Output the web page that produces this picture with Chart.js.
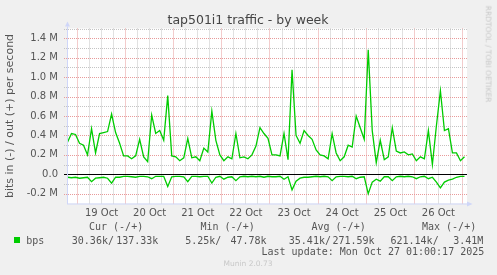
<!DOCTYPE html>
<html>
<head>
<meta charset="utf-8">
<script src="https://cdn.jsdelivr.net/npm/chart.js@4.4.1/dist/chart.umd.min.js"></script>
<style>
  html, body { margin: 0; padding: 0; background: #f0f0f0; }
  #wrap { position: relative; width: 497px; height: 275px; overflow: hidden; }
  #graph { position: absolute; left: 0; top: 0; }
  .txt { position: absolute; white-space: pre; color: #555; }
  .mono { font-family: 'DejaVu Sans Mono', monospace; font-size: 10px; line-height: 10px; }
  .title { font-family: 'DejaVu Sans', sans-serif; font-size: 12.5px; line-height: 12.5px; color: #444; }
  .faint { font-family: 'DejaVu Sans', sans-serif; font-size: 7.5px; line-height: 7.5px; color: #c8c8c8; }
  .swatch { position: absolute; left: 14px; top: 237px; width: 6px; height: 6px; background: #00cc00; }
</style>
</head>
<body>
<div id="wrap">
  <canvas id="graph" width="497" height="275"></canvas>
  <div class="txt title" style="left:248px; top:13.5px; transform:translateX(-50%);">tap501i1 traffic - by week</div>
  <div class="txt faint" style="left:487.5px; top:53.5px; transform:translate(-50%,-50%) rotate(90deg);">RRDTOOL / TOBI OETIKER</div>
  <div id="legend"></div>
  <div class="txt faint" style="left:248px; top:260px; transform:translateX(-50%);">Munin 2.0.73</div>
</div>
<script>
// time axis: hours counted from 19 Oct 00:00, one sample every 2 h
const dayLabels = ['19 Oct', '20 Oct', '21 Oct', '22 Oct', '23 Oct', '24 Oct', '25 Oct', '26 Oct'];
const firstHour = -5;
const stepHours = 2;

// traffic in Mbit/s
const outMbps = [
  0.33, 0.42, 0.41, 0.32, 0.30, 0.20, 0.47, 0.22, 0.42, 0.43,
  0.44, 0.62, 0.43, 0.32, 0.19, 0.19, 0.16, 0.19, 0.36, 0.18,
  0.13, 0.61, 0.42, 0.45, 0.35, 0.81, 0.19, 0.18, 0.14, 0.17,
  0.37, 0.17, 0.18, 0.14, 0.27, 0.23, 0.65, 0.35, 0.20, 0.14,
  0.18, 0.16, 0.42, 0.17, 0.18, 0.16, 0.20, 0.29, 0.48, 0.42,
  0.37, 0.20, 0.20, 0.19, 0.42, 0.15, 1.075, 0.40, 0.32, 0.45,
  0.40, 0.36, 0.25, 0.20, 0.19, 0.16, 0.42, 0.22, 0.14, 0.18,
  0.30, 0.28, 0.60, 0.48, 0.36, 1.28, 0.45, 0.12, 0.35, 0.15,
  0.18, 0.48, 0.24, 0.22, 0.23, 0.20, 0.21, 0.14, 0.18, 0.16,
  0.45, 0.10, 0.50, 0.86, 0.45, 0.47, 0.22, 0.22, 0.14, 0.18
];
const inMbps = [
  0.030, 0.035, 0.030, 0.040, 0.035, 0.030, 0.075, 0.040, 0.035, 0.030,
  0.040, 0.090, 0.030, 0.030, 0.020, 0.020, 0.025, 0.030, 0.020, 0.020,
  0.025, 0.045, 0.020, 0.020, 0.020, 0.125, 0.025, 0.020, 0.020, 0.025,
  0.075, 0.020, 0.020, 0.025, 0.020, 0.020, 0.090, 0.030, 0.020, 0.050,
  0.030, 0.025, 0.065, 0.025, 0.020, 0.025, 0.020, 0.025, 0.020, 0.030,
  0.020, 0.025, 0.025, 0.020, 0.050, 0.025, 0.160, 0.070, 0.040, 0.030,
  0.030, 0.025, 0.020, 0.025, 0.020, 0.025, 0.065, 0.025, 0.020, 0.020,
  0.025, 0.020, 0.045, 0.030, 0.025, 0.200, 0.080, 0.050, 0.070, 0.025,
  0.025, 0.065, 0.025, 0.020, 0.025, 0.020, 0.025, 0.045, 0.025, 0.020,
  0.045, 0.030, 0.080, 0.140, 0.080, 0.060, 0.050, 0.030, 0.020, 0.020
];

const statHeads = ['Cur (-/+)', 'Min (-/+)', 'Avg (-/+)', 'Max (-/+)'];
const statIn = ['30.36k/', '5.25k/', '35.41k/', '621.14k/'];
const statOut = ['137.33k', '47.78k', '271.59k', '3.41M'];
const lastUpdate = 'Last update: Mon Oct 27 01:00:17 2025';

const GREEN = '#00cc00';
const AXIS = '#cfd6f8';
const MGRID = '#e89a9a';
const GRID = '#c4c4c4';

// legend block, rrdtool style
const legend = document.getElementById('legend');
function put(text, x, y) {
  const d = document.createElement('div');
  d.className = 'txt mono';
  d.textContent = text;
  d.style.left = x + 'px';
  d.style.top = (y - 4.8) + 'px';
  legend.appendChild(d);
}
const headX = [89, 200.5, 311.5, 422];
const inX = [71.8, 185.2, 288.8, 390.5];
const outX = [116.2, 230.5, 332.5, 453.2];
statHeads.forEach((t, i) => put(t, headX[i], 226.7));
put('bps', 26.2, 240.3);
statIn.forEach((t, i) => put(t, inX[i], 240.3));
statOut.forEach((t, i) => put(t, outX[i], 240.3));
put(lastUpdate, 261.5, 251.3);
const sw = document.createElement('div');
sw.className = 'swatch';
legend.appendChild(sw);

const toPoints = (arr, sign) => arr.map((v, i) => ({ x: firstHour + i * stepHours, y: sign * v }));

const tenths = v => Math.round(v * 10);

const muninFrame = {
  id: 'muninFrame',
  beforeDraw(chart) {
    const { ctx, chartArea: a } = chart;
    ctx.save();
    ctx.fillStyle = '#ffffff';
    ctx.fillRect(a.left, a.top, a.right - a.left, a.bottom - a.top);
    ctx.restore();
  },
  // horizontal grid from the y scale ticks, rrdtool dotted style
  beforeDatasetsDraw(chart) {
    const { ctx, chartArea: a } = chart;
    const y = chart.scales.y;
    ctx.save();
    ctx.lineWidth = 1;
    y.ticks.forEach(t => {
      const k = tenths(t.value);
      const py = Math.round(y.getPixelForValue(t.value)) + 0.5;
      ctx.strokeStyle = k === 0 ? '#000000' : (k % 2 === 0 ? MGRID : GRID);
      ctx.setLineDash(k === 0 ? [] : [1, 1]);
      ctx.beginPath();
      ctx.moveTo(a.left - 3, py);
      ctx.lineTo(a.right, py);
      ctx.stroke();
    });
    ctx.restore();
  },
  afterDraw(chart) {
    const { ctx, chartArea: a } = chart;
    ctx.save();
    ctx.setLineDash([]);
    ctx.strokeStyle = AXIS;
    ctx.fillStyle = AXIS;
    ctx.lineWidth = 1;
    ctx.beginPath();
    ctx.moveTo(a.left + 0.5, a.bottom + 0.5);
    ctx.lineTo(a.left + 0.5, a.top - 2);
    ctx.moveTo(a.left, a.bottom + 0.5);
    ctx.lineTo(a.right + 2, a.bottom + 0.5);
    ctx.stroke();
    // arrows
    ctx.beginPath();
    ctx.moveTo(a.left - 2, a.top - 2);
    ctx.lineTo(a.left + 3, a.top - 2);
    ctx.lineTo(a.left + 0.5, a.top - 7);
    ctx.closePath();
    ctx.fill();
    ctx.beginPath();
    ctx.moveTo(a.right, a.bottom - 2);
    ctx.lineTo(a.right, a.bottom + 3);
    ctx.lineTo(a.right + 5.5, a.bottom + 0.5);
    ctx.closePath();
    ctx.fill();
    ctx.restore();
  }
};

new Chart(document.getElementById('graph'), {
  type: 'line',
  data: {
    datasets: [
      { label: 'out', data: toPoints(outMbps, 1), borderColor: GREEN },
      { label: 'in', data: toPoints(inMbps, -1), borderColor: GREEN }
    ]
  },
  options: {
    responsive: false,
    animation: false,
    events: [],
    layout: { padding: { left: 0, right: 30, top: 28.5, bottom: 51.5 } },
    elements: {
      point: { radius: 0 },
      line: { borderWidth: 1.3, tension: 0, fill: false }
    },
    plugins: { legend: { display: false }, tooltip: { enabled: false } },
    scales: {
      x: {
        type: 'linear',
        min: -5.24,
        max: 194.26,
        afterBuildTicks: scale => {
          const t = [];
          for (let h = 0; h <= 192; h += 6) t.push({ value: h });
          scale.ticks = t;
        },
        afterFit: scale => { scale.height = 20; },
        grid: {
          color: ctx => (ctx.tick && ctx.tick.value % 24 === 0 ? MGRID : GRID),
          lineWidth: 1,
          drawTicks: false
        },
        border: { display: false, dash: [1, 1] },
        ticks: {
          autoSkip: false,
          maxTicksLimit: 100,
          maxRotation: 0,
          padding: 4,
          color: '#555',
          font: { family: 'DejaVu Sans', size: 10 },
          callback: v => (v % 24 === 12 ? dayLabels[(v - 12) / 24] : '')
        }
      },
      y: {
        type: 'linear',
        min: -0.3,
        max: 1.5,
        afterBuildTicks: scale => {
          const t = [];
          for (let k = -2; k <= 15; k++) t.push({ value: k / 10 });
          scale.ticks = t;
        },
        afterFit: scale => { scale.width = 67; },
        grid: { display: false, tickLength: 3 },
        border: { display: false },
        ticks: {
          autoSkip: false,
          maxTicksLimit: 100,
          padding: 6,
          color: '#555',
          font: { family: 'DejaVu Sans', size: 10 },
          callback: v => {
            const k = tenths(v);
            if (k % 2 !== 0 || k > 14) return '';
            return k === 0 ? '0.0' : (k / 10).toFixed(1) + ' M';
          }
        },
        title: {
          display: true,
          text: 'bits in (-) / out (+) per second',
          color: '#555',
          font: { family: 'DejaVu Sans', size: 11 },
          padding: { top: 4, bottom: 0 }
        }
      }
    }
  },
  plugins: [muninFrame]
});
</script>
</body>
</html>
